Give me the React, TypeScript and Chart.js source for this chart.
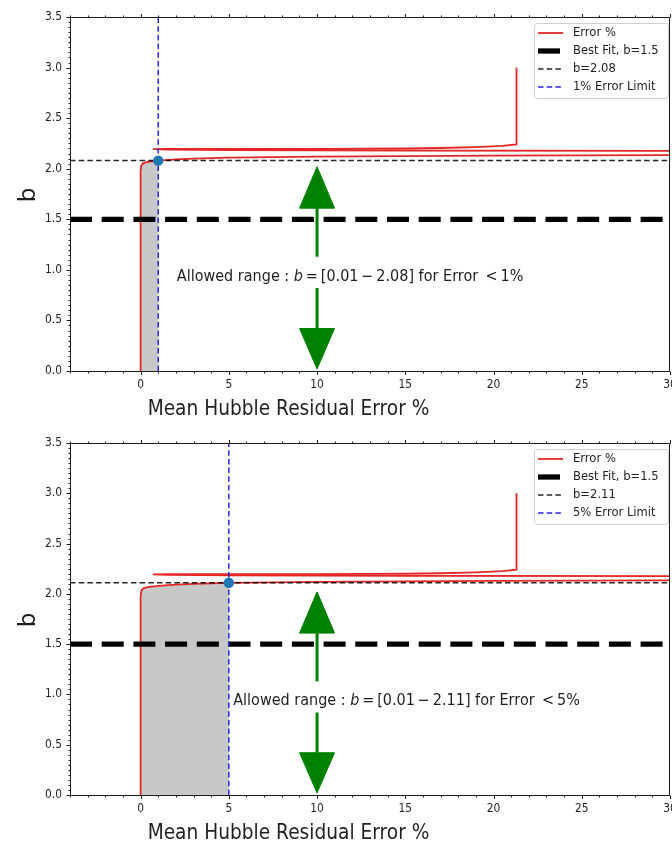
import React, { useEffect, useRef } from 'react';
import { Chart, registerables } from 'chart.js';

Chart.register(...registerables);

// ---------- axis ranges & ticks ----------
const X_MIN = -4;
const X_MAX = 30;
const Y_MIN = 0;
const Y_MAX = 3.5;
const X_MAJOR = [0, 5, 10, 15, 20, 25, 30];
const X_TICK_LABELS = ['0', '5', '10', '15', '20', '25', '30'];
const Y_MAJOR = [0, 0.5, 1, 1.5, 2, 2.5, 3, 3.5];
const Y_TICK_LABELS = ['0.0', '0.5', '1.0', '1.5', '2.0', '2.5', '3.0', '3.5'];
const X_LABEL = 'Mean Hubble Residual Error %';
const Y_LABEL = 'b';

// ---------- the Error % curve (x = error %, y = b), in curve order ----------
const errorPct = [0, 0, 0.04, 0.15, 0.4, 1, 2, 3, 5, 10, 20, 30, 45, 45, 30, 15, 5, 1.5, 0.7, 1.5, 10, 15, 17, 19, 20.5, 21.3, 21.3];
const bCurve = [0, 1.97, 2.03, 2.055, 2.068, 2.08, 2.092, 2.1, 2.11, 2.12, 2.13, 2.135, 2.14, 2.175, 2.176, 2.18, 2.185, 2.19, 2.193, 2.195, 2.197, 2.2, 2.205, 2.214, 2.226, 2.24, 3.0];

const BEST_FIT_B = 1.5;

// ---------- per panel ----------
const panelLimit = [1, 5];
const panelBAtLimit = [2.08, 2.11];
const panelRangeLow = [0.01, 0.01];
const panelTextX = [2.05, 5.25];
const panelTextY = [0.89, 0.895];

// ---------- arrows ----------
const ARROW_X = 10;
const ARROW_HALF = 0.99;
const upStem = [1.13, 1.61];
const upHead = [1.61, 2.02];
const downStem = [0.82, 0.42];
const downHead = [0.42, 0.02];

// ---------- colours ----------
const RED = 'rgb(228,38,38)';
const GRAY_FILL = 'rgb(200,200,200)';
const BLUE = 'rgb(40,40,225)';
const DOT = '#1f77b4';
const GREEN = '#008000';
const AXIS = '#1a1a1a';
const TEXT = '#1f1f1f';
const FONT = '"DejaVu Sans", Verdana, sans-serif';

const DASH_THICK = [22, 9.7];
const DASH_THIN = [5.5, 3.2];

function drawText(ctx: CanvasRenderingContext2D, txt: string, x: number, y: number, font: string, sx: number, align: CanvasTextAlign, baseline: CanvasTextBaseline, color = TEXT) {
  ctx.save();
  ctx.font = font;
  ctx.fillStyle = color;
  ctx.textAlign = align;
  ctx.textBaseline = baseline;
  ctx.translate(x, y);
  ctx.scale(sx, 1);
  ctx.fillText(txt, 0, 0);
  ctx.restore();
}

function makePlugin(idx: number) {
  return {
    id: 'decor' + idx,
    afterDatasetsDraw(chart: any) {
      const ctx: CanvasRenderingContext2D = chart.ctx;
      const { left, right, top, bottom } = chart.chartArea;
      const xs = chart.scales.x;
      const ys = chart.scales.y;
      ctx.save();
      // spines
      ctx.strokeStyle = AXIS;
      ctx.lineWidth = 1;
      ctx.setLineDash([]);
      ctx.beginPath();
      ctx.moveTo(left + 0.5, top + 0.5);
      ctx.lineTo(right - 0.5, top + 0.5);
      ctx.lineTo(right - 0.5, bottom + 0.5);
      ctx.lineTo(left + 0.5, bottom + 0.5);
      ctx.closePath();
      ctx.stroke();
      // ticks
      ctx.beginPath();
      Y_MAJOR.forEach((v) => {
        const p = Math.round(ys.getPixelForValue(v)) + 0.5;
        ctx.moveTo(left + 0.5, p);
        ctx.lineTo(left - 3.5, p);
      });
      for (let k = 0; k <= 70; k++) {
        const v = k * 0.05;
        const p = Math.round(ys.getPixelForValue(v)) + 0.5;
        ctx.moveTo(left + 0.5, p);
        ctx.lineTo(left - 1.5, p);
      }
      X_MAJOR.forEach((v) => {
        const p = Math.round(xs.getPixelForValue(v)) + 0.5;
        ctx.moveTo(p, bottom + 0.5);
        ctx.lineTo(p, bottom + 4);
        ctx.moveTo(p, top + 0.5);
        ctx.lineTo(p, top - 3);
      });
      for (let v = X_MIN; v <= X_MAX; v++) {
        const p = Math.round(xs.getPixelForValue(v)) + 0.5;
        ctx.moveTo(p, bottom + 0.5);
        ctx.lineTo(p, bottom + 2.5);
        ctx.moveTo(p, top + 0.5);
        ctx.lineTo(p, top - 1.5);
      }
      ctx.stroke();
      ctx.restore();

      // tick labels
      const tickFont = `11.5px ${FONT}`;
      Y_MAJOR.forEach((v, i) => {
        drawText(ctx, Y_TICK_LABELS[i], left - 8, ys.getPixelForValue(v), tickFont, 0.93, 'right', 'middle');
      });
      X_MAJOR.forEach((v, i) => {
        drawText(ctx, X_TICK_LABELS[i], xs.getPixelForValue(v), bottom + 14, tickFont, 0.93, 'center', 'middle');
      });

      // axis labels
      drawText(ctx, X_LABEL, 288.5, bottom + 44, `22px ${FONT}`, 0.845, 'center', 'alphabetic');
      ctx.save();
      ctx.translate(35, (top + bottom) / 2 + 1);
      ctx.rotate(-Math.PI / 2);
      drawText(ctx, Y_LABEL, 0, 0, `23px ${FONT}`, 1, 'center', 'alphabetic');
      ctx.restore();

      // annotation
      const bLim = panelBAtLimit[idx];
      const runs = [
        { t: 'Allowed range : ', it: false },
        { t: 'b', it: true },
        { t: '\u2009=\u2009[' + panelRangeLow[idx].toFixed(2) + '\u2009\u2212\u2009' + bLim.toFixed(2) + ']', it: false },
        { t: ' for Error \u2009<\u2009' + panelLimit[idx] + '%', it: false },
      ];
      let ax = xs.getPixelForValue(panelTextX[idx]);
      const ay = ys.getPixelForValue(panelTextY[idx]);
      const asx = 0.93;
      runs.forEach((r) => {
        const f = `${r.it ? 'italic ' : ''}15.5px ${FONT}`;
        ctx.save();
        ctx.font = f;
        const w = ctx.measureText(r.t).width * asx;
        ctx.restore();
        drawText(ctx, r.t, ax, ay, f, asx, 'left', 'alphabetic');
        ax += w;
      });

      // legend
      const lw = 134;
      const lh = 75;
      const lx = right - 2 - lw;
      const ly = top + 6;
      ctx.save();
      ctx.beginPath();
      (ctx as any).roundRect(lx + 0.5, ly + 0.5, lw, lh, 3);
      ctx.fillStyle = 'rgba(255,255,255,0.85)';
      ctx.fill();
      ctx.strokeStyle = '#cfcfcf';
      ctx.lineWidth = 1;
      ctx.stroke();
      ctx.restore();
      const entries = [
        { label: 'Error %', color: RED, width: 1.8, dash: [] as number[] },
        { label: 'Best Fit, b=' + BEST_FIT_B, color: '#000', width: 5.3, dash: DASH_THICK },
        { label: 'b=' + bLim.toFixed(2), color: 'rgba(0,0,0,0.85)', width: 1.5, dash: DASH_THIN },
        { label: panelLimit[idx] + '% Error Limit', color: BLUE, width: 1.5, dash: DASH_THIN },
      ];
      entries.forEach((e, i) => {
        const y = ly + 10 + i * 18;
        ctx.save();
        ctx.strokeStyle = e.color;
        ctx.lineWidth = e.width;
        ctx.setLineDash(e.dash);
        ctx.lineCap = 'butt';
        ctx.beginPath();
        ctx.moveTo(lx + 4, y);
        ctx.lineTo(lx + 29, y);
        ctx.stroke();
        ctx.restore();
        drawText(ctx, e.label, lx + 39, y, `13px ${FONT}`, 0.89, 'left', 'middle');
      });
    },
  };
}

function pts(xs: number[], ys: number[]) {
  return xs.map((x, i) => ({ x, y: ys[i] }));
}

function buildConfig(idx: number, padTop: number, xAxisH: number): any {
  const lim = panelLimit[idx];
  const bLim = panelBAtLimit[idx];
  const curve = pts(errorPct, bCurve);
  const cut = errorPct.indexOf(lim);
  const fillPts = curve.slice(0, cut + 1).concat([{ x: lim, y: 0 }]);
  const line = (data: any[], extra: any) => ({
    data,
    pointRadius: 0,
    borderWidth: 1.5,
    fill: false,
    tension: 0,
    ...extra,
  });
  const datasets = [
    line(fillPts, { borderWidth: 0, backgroundColor: GRAY_FILL, fill: 'shape', order: 20 }),
    line(curve, { borderColor: RED, borderWidth: 1.8, order: 15, label: 'Error %' }),
    line(pts([X_MIN, X_MAX], [BEST_FIT_B, BEST_FIT_B]), { borderColor: '#000', borderWidth: 5.3, borderDash: DASH_THICK, order: 14 }),
    line(pts([X_MIN, X_MAX], [bLim, bLim]), { borderColor: 'rgba(0,0,0,0.85)', borderWidth: 1.5, borderDash: DASH_THIN, order: 13 }),
    line(pts([lim, lim], [Y_MIN, Y_MAX]), { borderColor: BLUE, borderWidth: 1.5, borderDash: DASH_THIN, order: 12 }),
    line(pts([ARROW_X, ARROW_X], upStem), { borderColor: GREEN, borderWidth: 3, order: 10 }),
    line(pts([ARROW_X - ARROW_HALF, ARROW_X + ARROW_HALF, ARROW_X, ARROW_X - ARROW_HALF], [upHead[0], upHead[0], upHead[1], upHead[0]]), { borderColor: GREEN, backgroundColor: GREEN, borderWidth: 1, fill: 'shape', order: 9 }),
    line(pts([ARROW_X, ARROW_X], downStem), { borderColor: GREEN, borderWidth: 3, order: 10 }),
    line(pts([ARROW_X - ARROW_HALF, ARROW_X + ARROW_HALF, ARROW_X, ARROW_X - ARROW_HALF], [downHead[0], downHead[0], downHead[1], downHead[0]]), { borderColor: GREEN, backgroundColor: GREEN, borderWidth: 1, fill: 'shape', order: 9 }),
    {
      data: [{ x: lim, y: bLim }],
      showLine: false,
      pointRadius: 5.2,
      pointBackgroundColor: DOT,
      pointBorderWidth: 0,
      order: 1,
    },
  ];
  return {
    type: 'line',
    data: { datasets },
    options: {
      animation: false,
      responsive: false,
      maintainAspectRatio: false,
      devicePixelRatio: 1,
      events: [],
      layout: { autoPadding: false, padding: { top: padTop, right: 2, left: 0, bottom: 0 } },
      plugins: { legend: { display: false }, tooltip: { enabled: false } },
      scales: {
        x: {
          type: 'linear',
          min: X_MIN,
          max: X_MAX,
          grid: { display: false, drawTicks: false },
          border: { display: false },
          ticks: { display: false },
          afterFit: (s: any) => { s.height = xAxisH; },
        },
        y: {
          type: 'linear',
          min: Y_MIN,
          max: Y_MAX,
          grid: { display: false, drawTicks: false },
          border: { display: false },
          ticks: { display: false },
          afterFit: (s: any) => { s.width = 70; },
        },
      },
    },
    plugins: [makePlugin(idx)],
  };
}

function Panel({ idx, height, padTop, xAxisH }: { idx: number; height: number; padTop: number; xAxisH: number }) {
  const ref = useRef<HTMLCanvasElement>(null);
  useEffect(() => {
    const chart = new Chart(ref.current as HTMLCanvasElement, buildConfig(idx, padTop, xAxisH));
    return () => chart.destroy();
  }, [idx, padTop, xAxisH]);
  return <canvas ref={ref} width={672} height={height} style={{ display: 'block', width: 672, height }} />;
}

export default function App() {
  useEffect(() => {
    document.body.style.margin = '0';
  }, []);
  return (
    <div style={{ position: 'absolute', left: 0, top: 0, width: 672, background: '#fff' }}>
      <Panel idx={0} height={422} padTop={17} xAxisH={51} />
      <Panel idx={1} height={421} padTop={21} xAxisH={48} />
    </div>
  );
}
